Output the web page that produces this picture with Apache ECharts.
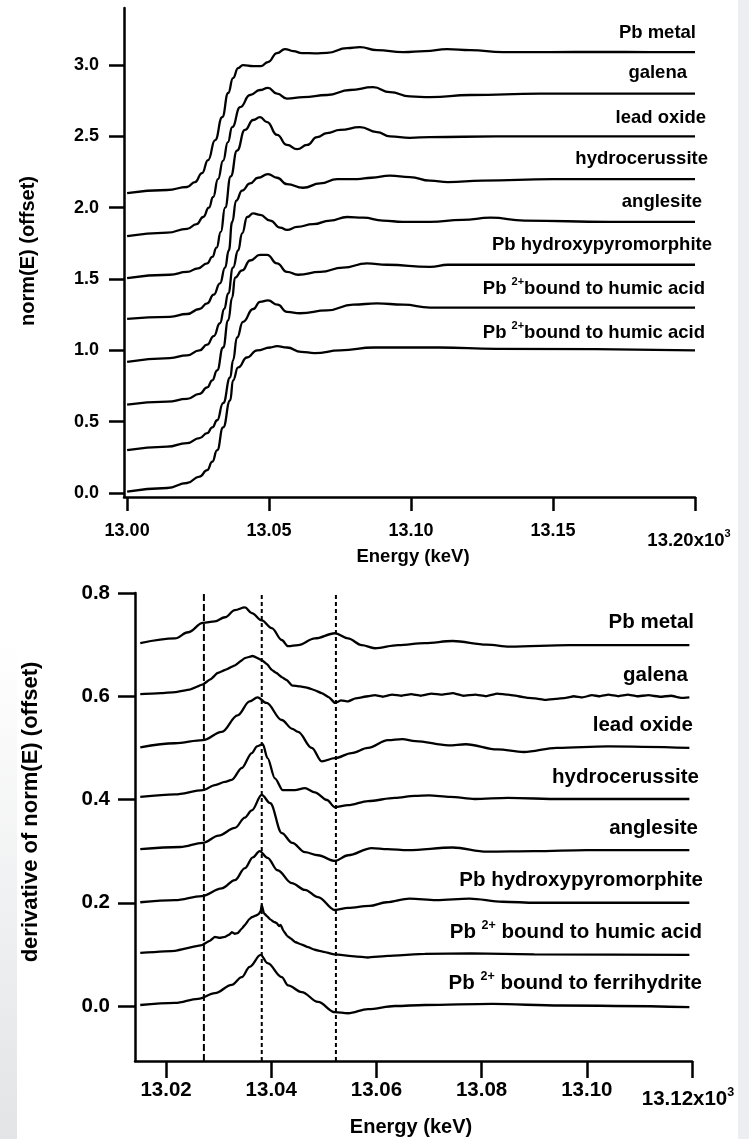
<!DOCTYPE html>
<html>
<head>
<meta charset="utf-8">
<script src="https://cdn.jsdelivr.net/npm/echarts@6/dist/echarts.min.js"></script>
<style>
  html, body { margin: 0; padding: 0; background: #ffffff; }
  #chart { width: 749px; height: 1139px; }
</style>
</head>
<body>
<div id="chart"></div>
<script>
// ---------- Pb L3-edge XANES, normalized and offset (energy in keV) ----------
const xanesPbMetal = [[13.0000,2.103],[13.0141,2.124],[13.0211,2.145],[13.0239,2.180],[13.0264,2.243],[13.0285,2.334],[13.0310,2.474],[13.0335,2.635],[13.0356,2.804],[13.0373,2.909],[13.0391,2.979],[13.0408,3.000],[13.0444,2.993],[13.0472,2.993],[13.0496,3.021],[13.0528,3.084],[13.0556,3.112],[13.0585,3.098],[13.0616,3.084],[13.0662,3.082],[13.0704,3.086],[13.0775,3.119],[13.0820,3.126],[13.0880,3.105],[13.0972,3.091],[13.1049,3.098],[13.1127,3.112],[13.1208,3.105],[13.1324,3.091],[13.1489,3.091],[13.1665,3.092],[13.1842,3.091],[13.2000,3.090]];
const xanesGalena = [[13.0000,1.800],[13.0141,1.825],[13.0211,1.852],[13.0245,1.885],[13.0268,1.935],[13.0288,2.000],[13.0303,2.075],[13.0320,2.200],[13.0338,2.330],[13.0355,2.460],[13.0370,2.565],[13.0398,2.705],[13.0433,2.790],[13.0468,2.825],[13.0496,2.840],[13.0528,2.800],[13.0563,2.765],[13.0620,2.775],[13.0704,2.790],[13.0785,2.825],[13.0866,2.845],[13.0926,2.810],[13.0996,2.780],[13.1067,2.775],[13.1208,2.790],[13.1454,2.800],[13.1700,2.800],[13.2000,2.800]];
const xanesLeadOxide = [[13.0000,1.507],[13.0150,1.530],[13.0211,1.550],[13.0250,1.575],[13.0282,1.610],[13.0300,1.655],[13.0315,1.720],[13.0330,1.830],[13.0345,2.000],[13.0365,2.220],[13.0387,2.400],[13.0415,2.545],[13.0444,2.615],[13.0468,2.635],[13.0493,2.600],[13.0528,2.510],[13.0563,2.440],[13.0599,2.410],[13.0634,2.440],[13.0669,2.495],[13.0704,2.523],[13.0750,2.545],[13.0820,2.565],[13.0880,2.530],[13.0926,2.500],[13.0996,2.490],[13.1067,2.495],[13.1300,2.500],[13.1600,2.500],[13.2000,2.500]];
const xanesHydrocerussite = [[13.0000,1.220],[13.0150,1.235],[13.0211,1.255],[13.0255,1.290],[13.0282,1.330],[13.0305,1.390],[13.0327,1.470],[13.0345,1.580],[13.0358,1.700],[13.0370,1.900],[13.0384,2.050],[13.0405,2.120],[13.0433,2.170],[13.0461,2.210],[13.0496,2.235],[13.0528,2.210],[13.0563,2.165],[13.0620,2.140],[13.0680,2.170],[13.0740,2.200],[13.0810,2.200],[13.0860,2.210],[13.0926,2.225],[13.0996,2.215],[13.1067,2.190],[13.1130,2.180],[13.1250,2.190],[13.1500,2.200],[13.2000,2.200]];
const xanesAnglesite = [[13.0000,0.920],[13.0150,0.946],[13.0211,0.965],[13.0255,1.000],[13.0282,1.040],[13.0305,1.100],[13.0327,1.190],[13.0342,1.290],[13.0356,1.400],[13.0373,1.580],[13.0391,1.700],[13.0405,1.820],[13.0423,1.935],[13.0444,1.960],[13.0468,1.950],[13.0504,1.910],[13.0539,1.860],[13.0563,1.845],[13.0599,1.865],[13.0655,1.885],[13.0715,1.910],[13.0775,1.935],[13.0831,1.930],[13.0901,1.910],[13.0972,1.900],[13.1067,1.900],[13.1180,1.915],[13.1280,1.930],[13.1400,1.910],[13.1700,1.900],[13.2000,1.900]];
const xanesHydroxypyromorphite = [[13.0000,0.620],[13.0141,0.640],[13.0211,0.660],[13.0255,0.695],[13.0282,0.740],[13.0300,0.790],[13.0317,0.860],[13.0338,1.020],[13.0356,1.210],[13.0370,1.370],[13.0380,1.510],[13.0405,1.560],[13.0433,1.630],[13.0468,1.670],[13.0493,1.670],[13.0528,1.610],[13.0563,1.550],[13.0602,1.530],[13.0680,1.550],[13.0760,1.580],[13.0845,1.610],[13.0915,1.600],[13.1067,1.585],[13.1130,1.600],[13.1300,1.600],[13.2000,1.600]];
const xanesHumicA = [[13.0000,0.300],[13.0141,0.325],[13.0211,0.350],[13.0255,0.385],[13.0282,0.420],[13.0300,0.460],[13.0317,0.510],[13.0338,0.630],[13.0363,0.810],[13.0373,0.930],[13.0387,1.090],[13.0408,1.200],[13.0444,1.290],[13.0468,1.340],[13.0496,1.350],[13.0530,1.320],[13.0563,1.270],[13.0609,1.260],[13.0704,1.280],[13.0796,1.320],[13.0880,1.330],[13.0972,1.320],[13.1067,1.300],[13.1300,1.300],[13.2000,1.300]];
const xanesHumicB = [[13.0000,0.010],[13.0141,0.035],[13.0211,0.070],[13.0255,0.115],[13.0282,0.160],[13.0300,0.220],[13.0317,0.300],[13.0338,0.460],[13.0363,0.650],[13.0373,0.790],[13.0391,0.880],[13.0422,0.950],[13.0458,1.000],[13.0504,1.020],[13.0528,1.030],[13.0563,1.020],[13.0613,0.990],[13.0660,0.980],[13.0750,1.000],[13.0870,1.020],[13.0990,1.020],[13.1100,1.020],[13.1300,1.010],[13.2000,1.000]];

// ---------- first derivative of norm(E), offset ----------
const dPbMetal = [[13.0151,0.703],[13.0217,0.712],[13.0242,0.724],[13.0270,0.742],[13.0293,0.745],[13.0312,0.753],[13.0331,0.767],[13.0350,0.772],[13.0363,0.761],[13.0382,0.747],[13.0401,0.732],[13.0420,0.709],[13.0432,0.697],[13.0451,0.699],[13.0483,0.712],[13.0521,0.722],[13.0546,0.712],[13.0572,0.699],[13.0597,0.693],[13.0641,0.699],[13.0692,0.703],[13.0745,0.707],[13.0810,0.700],[13.0853,0.696],[13.0967,0.699],[13.1195,0.699]];
const dGalena = [[13.0151,0.604],[13.0190,0.606],[13.0217,0.608],[13.0245,0.613],[13.0270,0.623],[13.0285,0.633],[13.0298,0.645],[13.0315,0.652],[13.0331,0.660],[13.0350,0.674],[13.0365,0.678],[13.0382,0.670],[13.0392,0.662],[13.0401,0.651],[13.0410,0.645],[13.0420,0.637],[13.0430,0.631],[13.0439,0.621],[13.0455,0.619],[13.0470,0.616],[13.0482,0.612],[13.0496,0.606],[13.0510,0.598],[13.0521,0.587],[13.0533,0.592],[13.0546,0.590],[13.0560,0.596],[13.0584,0.600],[13.0597,0.602],[13.0612,0.599],[13.0630,0.603],[13.0648,0.601],[13.0666,0.604],[13.0684,0.601],[13.0705,0.605],[13.0725,0.603],[13.0745,0.606],[13.0765,0.601],[13.0788,0.603],[13.0808,0.600],[13.0830,0.605],[13.0850,0.603],[13.0870,0.600],[13.0888,0.597],[13.0902,0.596],[13.0920,0.593],[13.0940,0.595],[13.0960,0.597],[13.0975,0.600],[13.0992,0.598],[13.1010,0.602],[13.1025,0.600],[13.1041,0.603],[13.1060,0.600],[13.1078,0.603],[13.1095,0.600],[13.1117,0.602],[13.1140,0.599],[13.1160,0.601],[13.1180,0.597],[13.1195,0.598]];
const dLeadOxide = [[13.0151,0.501],[13.0217,0.509],[13.0270,0.515],[13.0306,0.531],[13.0336,0.563],[13.0359,0.590],[13.0374,0.598],[13.0391,0.587],[13.0420,0.554],[13.0440,0.537],[13.0451,0.531],[13.0477,0.500],[13.0496,0.474],[13.0521,0.480],[13.0553,0.490],[13.0584,0.500],[13.0622,0.515],[13.0649,0.517],[13.0674,0.513],[13.0737,0.505],[13.0770,0.507],[13.0830,0.497],[13.0880,0.492],[13.0943,0.500],[13.1040,0.503],[13.1195,0.500]];
const dHydrocerussite = [[13.0151,0.405],[13.0217,0.410],[13.0270,0.418],[13.0293,0.428],[13.0312,0.434],[13.0325,0.438],[13.0344,0.461],[13.0363,0.490],[13.0373,0.503],[13.0384,0.507],[13.0393,0.480],[13.0407,0.441],[13.0422,0.418],[13.0445,0.418],[13.0464,0.422],[13.0483,0.414],[13.0506,0.399],[13.0521,0.385],[13.0546,0.389],[13.0584,0.397],[13.0635,0.403],[13.0673,0.407],[13.0700,0.408],[13.0740,0.405],[13.0787,0.401],[13.0850,0.403],[13.0950,0.401],[13.1195,0.401]];
const dAnglesite = [[13.0151,0.304],[13.0227,0.308],[13.0270,0.316],[13.0300,0.330],[13.0331,0.345],[13.0350,0.365],[13.0363,0.379],[13.0382,0.409],[13.0398,0.393],[13.0420,0.335],[13.0440,0.316],[13.0464,0.298],[13.0489,0.292],[13.0521,0.281],[13.0546,0.292],[13.0591,0.306],[13.0621,0.304],[13.0660,0.302],[13.0745,0.307],[13.0810,0.299],[13.0900,0.300],[13.1000,0.302],[13.1195,0.302]];
const dHydroxypyromorphite = [[13.0151,0.201],[13.0217,0.205],[13.0268,0.213],[13.0306,0.228],[13.0331,0.244],[13.0350,0.267],[13.0365,0.288],[13.0378,0.300],[13.0393,0.287],[13.0412,0.263],[13.0439,0.238],[13.0464,0.225],[13.0489,0.211],[13.0521,0.186],[13.0546,0.190],[13.0587,0.194],[13.0619,0.201],[13.0663,0.208],[13.0714,0.205],[13.0777,0.208],[13.0840,0.202],[13.0903,0.200],[13.1195,0.200]];
const dHumic = [[13.0151,0.103],[13.0217,0.107],[13.0268,0.118],[13.0283,0.126],[13.0293,0.134],[13.0302,0.132],[13.0312,0.134],[13.0320,0.138],[13.0325,0.143],[13.0331,0.140],[13.0336,0.141],[13.0344,0.150],[13.0350,0.157],[13.0358,0.168],[13.0363,0.172],[13.0370,0.175],[13.0376,0.178],[13.0380,0.184],[13.0382,0.196],[13.0386,0.180],[13.0392,0.174],[13.0398,0.168],[13.0405,0.163],[13.0410,0.161],[13.0415,0.155],[13.0418,0.157],[13.0423,0.146],[13.0430,0.136],[13.0437,0.131],[13.0445,0.124],[13.0458,0.119],[13.0470,0.114],[13.0483,0.109],[13.0496,0.106],[13.0521,0.100],[13.0559,0.096],[13.0584,0.094],[13.0622,0.097],[13.0692,0.101],[13.0780,0.102],[13.0900,0.100],[13.1195,0.099]];
const dFerrihydrite = [[13.0151,0.002],[13.0217,0.006],[13.0261,0.014],[13.0293,0.025],[13.0325,0.041],[13.0344,0.056],[13.0359,0.076],[13.0380,0.099],[13.0393,0.083],[13.0420,0.056],[13.0432,0.040],[13.0458,0.027],[13.0489,0.008],[13.0521,-0.012],[13.0546,-0.014],[13.0584,-0.006],[13.0635,0.000],[13.0692,0.002],[13.0820,0.004],[13.0950,0.001],[13.1195,-0.002]];

// reference energies marked in the derivative panel
const refEnergies = [13.0272, 13.0382, 13.0523];

// tick values
const topXTicks = [13.00, 13.05, 13.10, 13.15, 13.20];
const topYTicks = [0.0, 0.5, 1.0, 1.5, 2.0, 2.5, 3.0];
const botXTicks = [13.02, 13.04, 13.06, 13.08, 13.10, 13.12];
const botYTicks = [0.0, 0.2, 0.4, 0.6, 0.8];

const topSeries = [xanesPbMetal, xanesGalena, xanesLeadOxide, xanesHydrocerussite,
  xanesAnglesite, xanesHydroxypyromorphite, xanesHumicA, xanesHumicB];
const botSeries = [dPbMetal, dGalena, dLeadOxide, dHydrocerussite,
  dAnglesite, dHydroxypyromorphite, dHumic, dFerrihydrite];
// noisy derivative traces are drawn with less smoothing
const botSmooth = [0.35, 0.1, 0.35, 0.3, 0.35, 0.35, 0.1, 0.35];

const FONT = '"Liberation Sans", Arial, sans-serif';
const INK = '#000000';

function axisCommon(ticks, labelVals, decimals, tickLen, fontSize, margin) {
  return {
    type: 'value',
    scale: true,
    axisLine: { show: true, onZero: false, lineStyle: { color: INK, width: 2.5 } },
    axisTick: { show: true, inside: false, length: tickLen, customValues: ticks, lineStyle: { color: INK, width: 2.5 } },
    axisLabel: {
      show: true, customValues: labelVals, margin: margin,
      color: INK, fontFamily: FONT, fontWeight: 'bold', fontSize: fontSize,
      formatter: v => Number(v).toFixed(decimals)
    },
    splitLine: { show: false },
    minorTick: { show: false }
  };
}

const xTop = Object.assign(axisCommon(topXTicks, topXTicks.slice(0, -1), 2, 14, 18, 25),
  { gridIndex: 0, min: 12.9989, max: 13.20 });
const yTop = Object.assign(axisCommon(topYTicks, topYTicks, 1, 15, 18, 25),
  { gridIndex: 0, min: -0.028, max: 3.40 });
const xBot = Object.assign(axisCommon(botXTicks, botXTicks.slice(0, -1), 2, 17, 20.5, 19),
  { gridIndex: 1, min: 13.0141, max: 13.12 });
const yBot = Object.assign(axisCommon(botYTicks, botYTicks, 1, 17, 20.5, 25),
  { gridIndex: 1, min: -0.1065, max: 0.80 });

const series = [];
topSeries.forEach(d => series.push({
  type: 'line', xAxisIndex: 0, yAxisIndex: 0, data: d, showSymbol: false, symbol: 'none',
  smooth: 0.5, smoothMonotone: 'x', silent: true,
  lineStyle: { color: INK, width: 2.3 }
}));
botSeries.forEach((d, i) => series.push({
  type: 'line', xAxisIndex: 1, yAxisIndex: 1, data: d, showSymbol: false, symbol: 'none',
  smooth: botSmooth[i], smoothMonotone: 'x', silent: true,
  lineStyle: { color: INK, width: 2.3 }
}));
refEnergies.forEach((e, i) => series.push({
  type: 'line', xAxisIndex: 1, yAxisIndex: 1, symbol: 'none', silent: true,
  data: [[e, -0.1065], [e, 0.80]],
  lineStyle: { color: INK, width: 2, type: i === 0 ? [7, 3] : [4, 3] }
}));

// curve labels: [rich text, right edge x, centre y]
const topLabels = [
  ['{a|Pb metal}', 696, 33], ['{a|galena}', 687, 73], ['{a|lead oxide}', 706, 118],
  ['{a|hydrocerussite}', 708, 159], ['{a|anglesite}', 702, 202],
  ['{a|Pb hydroxypyromorphite}', 712, 245],
  ['{a|Pb }{s|2+}{a|bound to humic acid}', 705, 289],
  ['{a|Pb }{s|2+}{a|bound to humic acid}', 705, 333]
];
const botLabels = [
  ['{a|Pb metal}', 694, 622], ['{a|galena}', 688, 675], ['{a|lead oxide}', 693, 725],
  ['{a|hydrocerussite}', 699, 777], ['{a|anglesite}', 698, 828],
  ['{a|Pb hydroxypyromorphite}', 703, 880],
  ['{a|Pb }{s|2+}{a| bound to humic acid}', 702, 932],
  ['{a|Pb }{s|2+}{a| bound to ferrihydrite}', 702, 983]
];

function richText(size, supSize) {
  return {
    a: { fontFamily: FONT, fontWeight: 'bold', fontSize: size, lineHeight: size + 6, color: INK, verticalAlign: 'middle' },
    s: { fontFamily: FONT, fontWeight: 'bold', fontSize: supSize, lineHeight: supSize, color: INK, verticalAlign: 'top' }
  };
}

const graphic = [
  // faint grey border strips of the page
  { type: 'rect', shape: { x: 738, y: 0, width: 11, height: 1139 }, style: { fill: '#eceef1' }, silent: true, z: -10 },
  { type: 'rect', shape: { x: 0, y: 640, width: 17, height: 499 }, silent: true, z: -10,
    style: { fill: { type: 'linear', x: 0, y: 0, x2: 0, y2: 1,
      colorStops: [{ offset: 0, color: '#ffffff' }, { offset: 1, color: '#e3e4e6' }] } } }
];
topLabels.forEach(([t, x, y]) => graphic.push({
  type: 'text', x: x, y: y, silent: true,
  style: { text: t, rich: richText(18.5, 11), align: 'right', verticalAlign: 'middle' }
}));
botLabels.forEach(([t, x, y]) => graphic.push({
  type: 'text', x: x, y: y, silent: true,
  style: { text: t, rich: richText(20.5, 12.5), align: 'right', verticalAlign: 'middle' }
}));
// last tick labels carrying the x10^3 multiplier
graphic.push({ type: 'text', x: 689, y: 541, silent: true,
  style: { text: '{a|13.20x10}{s|3}', rich: richText(18.5, 11), align: 'center', verticalAlign: 'middle' } });
graphic.push({ type: 'text', x: 688, y: 1099, silent: true,
  style: { text: '{a|13.12x10}{s|3}', rich: richText(20.5, 12.5), align: 'center', verticalAlign: 'middle' } });
// axis titles
graphic.push({ type: 'text', x: 413, y: 557, silent: true,
  style: { text: 'Energy (keV)', font: 'bold 18.5px ' + FONT, fill: INK, align: 'center', verticalAlign: 'middle' } });
graphic.push({ type: 'text', x: 411, y: 1127, silent: true,
  style: { text: 'Energy (keV)', font: 'bold 20px ' + FONT, fill: INK, align: 'center', verticalAlign: 'middle' } });
graphic.push({ type: 'text', x: 28, y: 251, rotation: Math.PI / 2, silent: true,
  style: { text: 'norm(E) (offset)', font: 'bold 20px ' + FONT, fill: INK, align: 'center', verticalAlign: 'middle' } });
graphic.push({ type: 'text', x: 31, y: 812, rotation: Math.PI / 2, silent: true,
  style: { text: 'derivative of norm(E) (offset)', font: 'bold 22px ' + FONT, fill: INK, align: 'center', verticalAlign: 'middle' } });

const chart = echarts.init(document.getElementById('chart'), null, { renderer: 'canvas' });
chart.setOption({
  backgroundColor: '#ffffff',
  animation: false,
  grid: [
    { left: 124, top: 8, width: 571, height: 489, containLabel: false },
    { left: 135, top: 593, width: 557, height: 468, containLabel: false }
  ],
  xAxis: [xTop, xBot],
  yAxis: [yTop, yBot],
  series: series,
  graphic: graphic
});
</script>
</body>
</html>
